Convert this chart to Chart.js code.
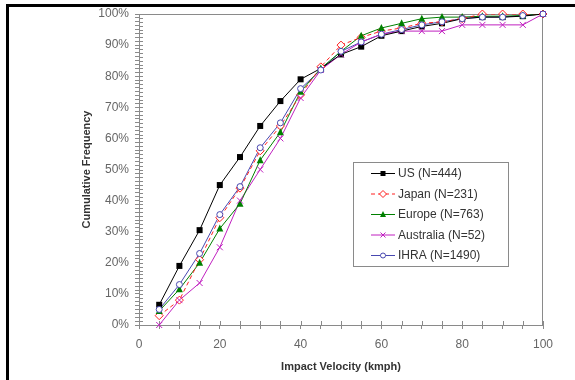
<!DOCTYPE html>
<html>
<head>
<meta charset="utf-8">
<script src="https://cdn.jsdelivr.net/npm/chart.js@4.4.1/dist/chart.umd.min.js"></script>
<style>
  html, body { margin: 0; padding: 0; background: #fff; }
  #wrap { width: 575px; height: 380px; position: relative; }
</style>
</head>
<body>
<div id="wrap"><canvas id="chart" width="575" height="380"></canvas></div>
<script>
// impact velocity (kmph) and cumulative frequency (%) per region
const velocity = [5, 10, 15, 20, 25, 30, 35, 40, 45, 50, 55, 60, 65, 70, 75, 80, 85, 90, 95, 100];
const us        = [6.5, 19, 30.5, 45, 54, 64, 72, 79, 82.5, 87, 89.5, 93, 94.5, 96, 97, 98.5, 99, 99, 99.3, 100];
const japan     = [3, 8, 21, 34.5, 44, 56, 64, 74, 83, 90, 92.5, 94.5, 95.5, 97, 97.5, 98.5, 100, 100, 100, 100];
const europe    = [4.5, 11.5, 20, 31, 39, 53, 62, 75, 82.5, 88, 93, 95.5, 97, 98.5, 99, 99, 99.3, 99.3, 99.5, 100];
const australia = [0, 8, 13.5, 25, 40, 50, 60, 73, 82, 87, 91, 93.5, 94.5, 94.5, 94.5, 96.5, 96.5, 96.5, 96.5, 100];
const ihra      = [5, 13, 23, 35.5, 44.5, 57, 65, 76, 82, 88, 91, 93.5, 95, 96.5, 97.5, 98.5, 99, 99, 99.5, 100];
const seriesNames = ['US (N=444)', 'Japan (N=231)', 'Europe (N=763)', 'Australia (N=52)', 'IHRA (N=1490)'];
const xLabelTicks = [0, 20, 40, 60, 80, 100];

function pts(arr) {
    return velocity.map((v, i) => ({ x: v, y: arr[i] }));
}

// black frame on top and left like the scanned figure
const framePlugin = {
    id: 'frame',
    afterDraw(chart) {
        const ctx = chart.ctx;
        ctx.save();
        ctx.fillStyle = '#000';
        ctx.fillRect(6, 4, 575 - 6, 3);
        ctx.fillRect(6, 4, 3, 380 - 4);
        ctx.restore();
    }
};

// gray box on top/right of the plot and tick marks poking into the plot
const plotBoxPlugin = {
    id: 'plotBox',
    beforeDatasetsDraw(chart) {
        const ctx = chart.ctx, a = chart.chartArea;
        ctx.save();
        ctx.strokeStyle = '#8a8a8a';
        ctx.lineWidth = 1;
        ctx.beginPath();
        ctx.moveTo(a.left, a.top + 0.5);
        ctx.lineTo(a.right - 0.5, a.top + 0.5);
        ctx.lineTo(a.right - 0.5, a.bottom);
        ctx.stroke();
        const xs = chart.scales.x, ys = chart.scales.y;
        ctx.beginPath();
        xs.ticks.forEach(t => {
            const px = Math.round(xs.getPixelForValue(t.value)) + 0.5;
            ctx.moveTo(px, a.bottom);
            ctx.lineTo(px, a.bottom - 4);
        });
        ys.ticks.forEach(t => {
            const py = Math.round(ys.getPixelForValue(t.value)) + 0.5;
            ctx.moveTo(a.left, py);
            ctx.lineTo(a.left + 4, py);
        });
        ctx.stroke();
        ctx.restore();
    }
};

function drawMarker(ctx, style, x, y, r, color) {
    ctx.save();
    ctx.strokeStyle = color;
    ctx.fillStyle = color;
    ctx.lineWidth = 1;
    ctx.beginPath();
    if (style === 'rect') {
        ctx.fillRect(x - r, y - r, r * 2, r * 2);
    } else if (style === 'rectRot') {
        ctx.fillStyle = '#fff';
        ctx.moveTo(x, y - r - 1); ctx.lineTo(x + r + 1, y); ctx.lineTo(x, y + r + 1); ctx.lineTo(x - r - 1, y); ctx.closePath();
        ctx.fill(); ctx.stroke();
    } else if (style === 'triangle') {
        ctx.moveTo(x, y - r - 1); ctx.lineTo(x + r + 0.5, y + r); ctx.lineTo(x - r - 0.5, y + r); ctx.closePath();
        ctx.fill();
    } else if (style === 'crossRot') {
        ctx.moveTo(x - r, y - r); ctx.lineTo(x + r, y + r);
        ctx.moveTo(x + r, y - r); ctx.lineTo(x - r, y + r);
        ctx.stroke();
    } else {
        ctx.fillStyle = '#fff';
        ctx.arc(x, y, r, 0, Math.PI * 2);
        ctx.fill(); ctx.stroke();
    }
    ctx.restore();
}

// legend box inside the plot, lower right
const boxLegendPlugin = {
    id: 'boxLegend',
    afterDraw(chart) {
        const ctx = chart.ctx;
        const left = 353, top = 162, w = 155, h = 104;
        ctx.save();
        ctx.fillStyle = '#fff';
        ctx.fillRect(left, top, w, h);
        ctx.strokeStyle = '#8a8a8a';
        ctx.lineWidth = 1;
        ctx.strokeRect(left + 0.5, top + 0.5, w, h);
        ctx.font = '12px "Liberation Sans", Arial, sans-serif';
        ctx.textBaseline = 'middle';
        chart.data.datasets.forEach((ds, i) => {
            const y = top + 11 + i * 20.5;
            ctx.strokeStyle = ds.borderColor;
            ctx.lineWidth = 1;
            ctx.setLineDash(ds.borderDash || []);
            ctx.beginPath();
            ctx.moveTo(left + 18, y + 0.5);
            ctx.lineTo(left + 42, y + 0.5);
            ctx.stroke();
            ctx.setLineDash([]);
            drawMarker(ctx, ds.pointStyle, left + 30, y + 0.5, 2.5, ds.borderColor);
            ctx.fillStyle = '#333';
            ctx.fillText(ds.label, left + 45, y + 1);
        });
        ctx.restore();
    }
};

// markers drawn by hand so the open ones stay open
const markerPlugin = {
    id: 'markers',
    afterDatasetsDraw(chart) {
        const ctx = chart.ctx;
        chart.data.datasets.forEach((ds, i) => {
            chart.getDatasetMeta(i).data.forEach(p => {
                drawMarker(ctx, ds.pointStyle, p.x, p.y, 3, ds.borderColor);
            });
        });
    }
};

const lineStyles = [
    { color: '#000000', point: 'rect' },
    { color: '#ff2020', point: 'rectRot', dash: [4, 3] },
    { color: '#008000', point: 'triangle' },
    { color: '#c020c0', point: 'crossRot' },
    { color: '#4848b0', point: 'circle' }
];
const allSeries = [us, japan, europe, australia, ihra];

new Chart(document.getElementById('chart'), {
    type: 'line',
    data: {
        datasets: allSeries.map((s, i) => ({
            label: seriesNames[i],
            data: pts(s),
            borderColor: lineStyles[i].color,
            backgroundColor: lineStyles[i].color,
            borderWidth: 1,
            borderDash: lineStyles[i].dash || [],
            pointStyle: lineStyles[i].point,
            pointRadius: 0,
            tension: 0,
            fill: false,
            order: i
        }))
    },
    options: {
        responsive: false,
        animation: false,
        events: [],
        layout: { padding: { left: 80, right: 32, top: 14, bottom: 6 } },
        plugins: { legend: { display: false }, tooltip: { enabled: false } },
        scales: {
            x: {
                type: 'linear',
                min: 0, max: 100,
                afterFit(scale) { scale.height = 49; },
                ticks: {
                    stepSize: 5,
                    autoSkip: false,
                    maxRotation: 0,
                    padding: 8,
                    color: '#666',
                    font: { family: '"Liberation Sans", Arial, sans-serif', size: 12 },
                    callback: v => xLabelTicks.includes(v) ? String(v) : ''
                },
                grid: { drawOnChartArea: false, tickLength: 4, color: '#8a8a8a' },
                border: { color: '#8a8a8a' },
                title: {
                    display: true,
                    text: 'Impact Velocity (kmph)',
                    color: '#333',
                    padding: 0,
                    font: { family: '"Liberation Sans", Arial, sans-serif', size: 11, weight: 'bold' }
                }
            },
            y: {
                min: 0, max: 100,
                afterFit(scale) { scale.width = 59; },
                ticks: {
                    stepSize: 1.25,
                    autoSkip: false,
                    padding: 6,
                    color: '#666',
                    font: { family: '"Liberation Sans", Arial, sans-serif', size: 12 },
                    callback: v => v % 10 === 0 ? v + '%' : ''
                },
                grid: { drawOnChartArea: false, tickLength: 4, color: '#8a8a8a' },
                border: { color: '#8a8a8a' },
                title: {
                    display: true,
                    text: 'Cumulative Frequency',
                    color: '#333',
                    padding: 0,
                    font: { family: '"Liberation Sans", Arial, sans-serif', size: 11, weight: 'bold' }
                }
            }
        }
    },
    plugins: [plotBoxPlugin, markerPlugin, boxLegendPlugin, framePlugin]
});
</script>
</body>
</html>
